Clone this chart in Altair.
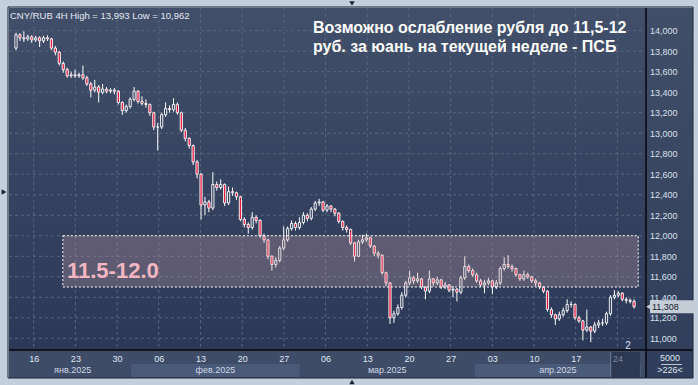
import altair as alt
import pandas as pd

# ---------------- data ----------------
first_open = 13830
closes = [13960,13930,13920,13940,13910,13930,13900,13930,13920,13830,
13790,13680,13620,13560,13570,13560,13570,13540,13480,13420,
13450,13400,13430,13410,13420,13410,13300,13220,13260,13330,
13410,13310,13290,13280,13200,13060,13060,13180,13240,13230,
13280,13200,13030,12950,12880,12720,12600,12300,12330,12270,
12500,12470,12500,12320,12430,12420,12380,12160,12110,12080,
12180,12150,12000,11960,11800,11720,11760,11880,11960,12070,
12120,12080,12130,12200,12170,12260,12320,12330,12250,12290,
12260,12220,12140,12080,12060,11930,11800,11940,11960,11980,
11900,11830,11810,11640,11540,11200,11240,11300,11420,11540,
11590,11560,11580,11500,11460,11580,11540,11570,11500,11520,
11470,11480,11450,11590,11700,11660,11620,11560,11520,11540,
11560,11500,11540,11680,11720,11700,11680,11620,11580,11620,
11600,11560,11540,11500,11460,11280,11230,11190,11230,11270,
11330,11330,11200,11170,11080,11110,11070,11130,11150,11150,
11240,11400,11420,11440,11380,11370,11360,11308]
highs = [13980,13975,13993,13960,13955,13950,13945,13950,13955,13930,
13850,13800,13700,13640,13600,13620,13590,13660,13560,13500,
13520,13470,13480,13450,13440,13440,13420,13310,13280,13350,
13450,13420,13360,13330,13290,13210,13100,13200,13300,13270,
13340,13300,13210,13050,12960,12890,12740,12610,12380,12350,
12620,12530,12550,12510,12480,12470,12430,12390,12180,12130,
12230,12200,12160,12020,11970,11810,11790,11900,12090,12090,
12150,12140,12180,12230,12220,12280,12340,12360,12340,12310,
12300,12270,12230,12150,12100,12070,11940,11960,12010,12020,
11990,11910,11850,11820,11650,11550,11270,11330,11450,11560,
11660,11610,11640,11590,11510,11660,11590,11600,11580,11550,
11530,11510,11490,11610,11800,11720,11680,11640,11580,11570,
11590,11570,11570,11700,11790,11810,11720,11690,11630,11660,
11640,11610,11580,11550,11510,11470,11300,11240,11260,11300,
11380,11360,11340,11220,11180,11280,11120,11160,11180,11190,
11260,11420,11470,11460,11450,11400,11390,11380]
lows = [13810,13900,13890,13900,13880,13890,13840,13880,13900,13810,
13760,13660,13590,13540,13540,13540,13540,13520,13460,13350,
13400,13300,13380,13390,13390,13380,13280,13180,13200,13240,
13310,13290,13270,13250,13170,13030,12830,13040,13160,13200,
13210,13180,13010,12920,12850,12690,12560,12160,12200,12230,
12250,12440,12450,12290,12300,12390,12350,12140,12080,12020,
12060,12120,11980,11930,11770,11660,11690,11740,11860,11940,
12050,12050,12060,12110,12140,12150,12240,12290,12230,12230,
12230,12190,12120,12050,12030,11910,11750,11790,11920,11940,
11880,11800,11780,11620,11510,11140,11150,11220,11280,11400,
11520,11530,11540,11480,11380,11440,11510,11520,11480,11480,
11450,11400,11360,11430,11570,11640,11600,11540,11500,11440,
11520,11430,11480,11520,11660,11680,11650,11600,11560,11560,
11580,11540,11510,11480,11440,11260,11200,11130,11170,11210,
11250,11300,11180,11150,10980,11060,10962,11050,11100,11120,
11130,11220,11380,11400,11360,11340,11340,11290]

# time axis in trading days since 16 Jan 2025; bars are evenly spaced 4H periods
BAR_START = -2.12
BAR_STEP = 0.4721
week_days = [0, 5, 10, 15, 20, 25, 30, 35, 40, 45, 50, 55, 60, 65, 70]
week_labels = ['16', '23', '30', '06', '13', '20', '27', '06', '13', '20', '27', '03', '10', '17', '24']
month_bounds = [-2.36, 11.7, 31.9, 52.9, 72.83]
month_labels = ["янв.2025", "фев.2025", "мар.2025", "апр.2025"]
month_shade = ["dark", "light", "dark", "light"]
y_ticks = [11000, 11200, 11400, 11600, 11800, 12000, 12200, 12400, 12600,
           12800, 13000, 13200, 13400, 13600, 13800, 14000]
zone_low, zone_high = 11500, 12000
zone_start, zone_end = 3.5, 72.5
current_week = [69.2, 72.7]
header = "CNY/RUB 4H High = 13,993 Low = 10,962"
headline1 = "Возможно ослабление рубля до 11,5-12"
headline2 = "руб. за юань на текущей неделе - ПСБ"
zone_text = "11.5-12.0"

# ---------------- tables ----------------
n = len(closes)
opens = [first_open] + closes[:-1]
df = pd.DataFrame({"d": [BAR_START + i * BAR_STEP for i in range(n)],
                   "o": opens, "c": closes, "h": highs, "l": lows})
df["top"] = df[["o", "c"]].max(axis=1)
df["bot"] = df[["o", "c"]].min(axis=1)
df["h"] = df[["h", "top"]].max(axis=1)
df["l"] = df[["l", "bot"]].min(axis=1)
df["dir"] = ["up" if c >= o else "down" for o, c in zip(df.o, df.c)]

weeks = pd.DataFrame({"d": week_days, "lab": week_labels})
months = pd.DataFrame({"s": month_bounds[:-1], "e": month_bounds[1:],
                       "lab": month_labels, "shade": month_shade})
months["mid"] = (months.s + months.e) / 2
yt = pd.DataFrame({"v": y_ticks})
zone = pd.DataFrame({"s": [zone_start], "e": [zone_end], "lo": [zone_low], "hi": [zone_high]})
cw = pd.DataFrame({"s": [current_week[0]], "e": [current_week[1]]})
last = df.tail(1)
one = pd.DataFrame({"a": [0]})

W, H = 637, 342
FONT = "Liberation Sans"
xs = alt.Scale(domain=[-2.36, 72.83], nice=False, zero=False)
ys = alt.Scale(domain=[10886, 14221], nice=False, zero=False)

lab_expr = "[" + ",".join("'%s'" % s for s in week_labels) + "][round(datum.value/5)]"
xaxis = alt.Axis(values=week_days, labelExpr=lab_expr, orient="bottom", domain=False,
                 ticks=False, tickSize=0, grid=False, labelPadding=8, labelFontSize=9,
                 labelFont=FONT, labelBaseline="middle", title=None, zindex=1,
                 labelFlush=False, labelOverlap=False,
                 labelColor={"condition": {"test": "datum.value >= 70", "value": "#7c879b"},
                             "value": "#dfe6f0"})
yaxis = alt.Axis(values=y_ticks, orient="right", format=",.0f", domain=False, ticks=False,
                 tickSize=0, grid=False, labelPadding=3.5, labelAlign="left",
                 labelBaseline="middle", labelFontSize=9, labelFont=FONT,
                 labelColor="#d8e0ec", title=None, zindex=1, labelFlush=False,
                 labelOverlap=False)


def X(f):
    return alt.X(f, type="quantitative", scale=xs, axis=xaxis)


def Y(f):
    return alt.Y(f, type="quantitative", scale=ys, axis=yaxis)


def box(x1, x2, y1, y2, **kw):
    return alt.Chart(one).mark_rect(**kw).encode(
        x=alt.value(x1), x2=alt.value(x2), y=alt.value(y1), y2=alt.value(y2))


def txt(s, x, y, **kw):
    return alt.Chart(one).mark_text(text=s, font=FONT, **kw).encode(x=alt.value(x), y=alt.value(y))


def grad(c1, c2):
    return alt.LinearGradient(gradient="linear",
                              stops=[alt.GradientStop(color=c1, offset=0),
                                     alt.GradientStop(color=c2, offset=1)],
                              x1=0, x2=0, y1=0, y2=1)


layers = []
# panels
layers.append(box(637, 684, 0, 370, fill=grad("#414e68", "#313e5b")))
layers.append(box(0, 637, 342, 370, fill="#3e4c68"))
layers.append(alt.Chart(months).transform_filter("datum.shade == 'light'").mark_rect(fill="#4a5a79").encode(
    x=X("s"), x2="e", y=alt.value(356), y2=alt.value(369)))
layers.append(alt.Chart(cw).mark_rect(fill="#2d3953").encode(
    x=X("s"), x2="e", y=alt.value(344), y2=alt.value(369)))
layers.append(alt.Chart(cw).mark_rule(color="#6f7d96", strokeWidth=1).encode(
    x=X("s"), y=alt.value(344), y2=alt.value(369)))
layers.append(alt.Chart(months).mark_text(font=FONT, fontSize=9, color="#cfd8e6", baseline="middle").encode(
    x=X("mid"), y=alt.value(362), text="lab:N"))
layers.append(box(0, 637, 0, 342, fill=grad("#424f6a", "#2b3857")))
# grid
layers.append(alt.Chart(yt).mark_rule(color="#58657f", strokeDash=[3, 3], strokeWidth=1).encode(
    y=Y("v"), x=alt.value(0), x2=alt.value(637)))
layers.append(alt.Chart(weeks).mark_rule(color="#58657f", strokeDash=[3, 3], strokeWidth=1).encode(
    x=X("d"), y=alt.value(0), y2=alt.value(342)))
# candles
layers.append(alt.Chart(df).mark_rule(color="white", strokeWidth=1).encode(
    x=X("d"), y=Y("l"), y2="h"))
layers.append(alt.Chart(df).mark_bar(size=2.2, stroke="white", strokeWidth=0.9).encode(
    x=X("d"), y=Y("top"), y2="bot",
    fill=alt.Fill("dir:N", scale=alt.Scale(domain=["up", "down"], range=["#35425f", "#e6143c"]), legend=None)))
# zone
layers.append(alt.Chart(zone).mark_rect(fill="#d2a4aa", fillOpacity=0.28, stroke="white",
                                        strokeDash=[2, 2], strokeWidth=1).encode(
    x=X("s"), x2="e", y=Y("lo"), y2="hi"))
layers.append(txt(zone_text, 58, 270, fontSize=22, fontWeight="bold", color="#f4b6c2",
                  align="left", baseline="alphabetic"))
# texts
layers.append(txt(header, 1, 10.5, fontSize=9.5, color="#e2e8f2", align="left", baseline="alphabetic"))
layers.append(txt(headline1, 304, 25, fontSize=16, fontWeight="bold", color="white",
                  align="left", baseline="alphabetic"))
layers.append(txt(headline2, 304, 44, fontSize=16, fontWeight="bold", color="white",
                  align="left", baseline="alphabetic"))
# separator lines
layers.append(alt.Chart(one).mark_rule(color="#05070b", strokeWidth=1.5).encode(
    x=alt.value(637), y=alt.value(0), y2=alt.value(370)))
layers.append(alt.Chart(one).mark_rule(color="#05070b", strokeWidth=1.5).encode(
    y=alt.value(342), x=alt.value(0), x2=alt.value(684)))
layers.append(box(-1, 684, -1, 370, fill="transparent", stroke="#1c2434", strokeWidth=1))
# bottom-right box texts
layers.append(txt("5000", 661, 350, fontSize=9, color="#dfe6f0", align="center", baseline="middle"))
layers.append(alt.Chart(one).mark_rule(color="#b8c2d2", strokeWidth=1).encode(
    y=alt.value(356.5), x=alt.value(652), x2=alt.value(673)))
layers.append(txt(">226<", 661, 362, fontSize=9, color="#dfe6f0", align="center", baseline="middle"))
# current price marker
layers.append(alt.Chart(last).mark_rect(fill="#c4ccd6", yOffset=-6.5, y2Offset=6.5).encode(
    x=alt.value(641), x2=alt.value(686), y=Y("c"), y2="c"))
layers.append(alt.Chart(last).mark_point(shape="triangle-left", filled=True, size=45,
                                         color="#c4ccd6", opacity=1).encode(
    x=alt.value(640), y=Y("c")))
layers.append(alt.Chart(last).mark_text(font=FONT, fontSize=9, color="#1b2233", align="left",
                                        baseline="middle").encode(
    x=alt.value(643), y=Y("c"), text=alt.Text("c:Q", format=",")))
# small decorations
layers.append(txt("2", 619, 338, fontSize=10, color="#d8e4f4", align="center", baseline="middle"))
layers.append(alt.Chart(one).mark_point(shape="triangle-down", filled=True, size=30, color="#1c2535",
                                        opacity=1).encode(x=alt.value(343), y=alt.value(-4.5)))
layers.append(alt.Chart(one).mark_point(shape="triangle-right", filled=True, size=30, color="#1c2535",
                                        opacity=1).encode(x=alt.value(-5), y=alt.value(184)))
layers.append(alt.Chart(one).mark_point(shape="triangle-up", filled=True, size=30, color="#1c2535",
                                        opacity=1).encode(x=alt.value(343), y=alt.value(374)))

chart = alt.layer(*layers).properties(
    width=W, height=H,
    padding={"left": 9, "top": 8, "right": 52, "bottom": 35},
    autosize=alt.AutoSizeParams(type="none"),
    background="#c3cfdc",
).configure_view(strokeWidth=0)

chart.save("out.html", embed_options={"renderer": "svg", "actions": False})
